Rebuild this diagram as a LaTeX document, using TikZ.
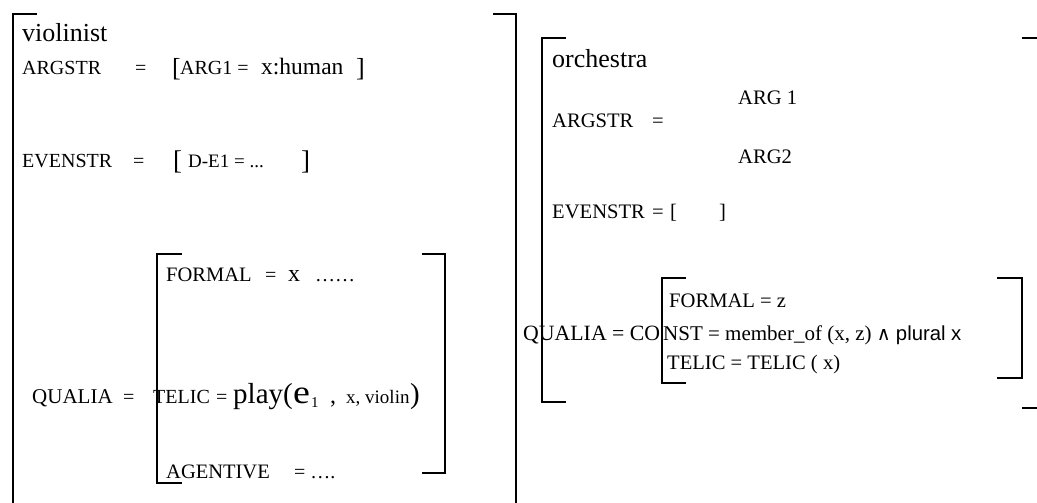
\documentclass[tikz,border=0pt]{standalone}
\usepackage{fontspec}
\setmainfont{Liberation Serif}
\newfontfamily\sansf{Liberation Sans}
\newfontfamily\dejav{DejaVu Sans}
\newcommand{\fs}[1]{\fontsize{#1}{#1}\selectfont}
\begin{document}
\begin{tikzpicture}[x=1pt,y=-1pt,
  txt/.style={anchor=base west,inner sep=0pt,font=\fs{20}},
  rtxt/.style={anchor=base west,inner sep=0pt,font=\fs{20.6}},
  big/.style={anchor=base west,inner sep=0pt,font=\fs{26}},
  brk/.style={line width=1.7pt}]
\useasboundingbox (0,0) rectangle (1037,503);
% ---------------- left structure ----------------
\draw[brk] (37,14) -- (13,14) -- (13,503);
\draw[brk] (493,14) -- (516,14) -- (516,503);
\node[big] (vio) at (22,42) {violinist};
\node[txt] (a1) at (22,75) {ARGSTR};
\node[txt] (a1eq) at (135,75) {=};
\node[txt,font=\fs{26}] (a1lb) at (172,77) {[};
\node[txt] (a1arg) at (180,75) {ARG1 =};
\node[txt,font=\fs{23.5}] (a1val) at (261,75) {x:human};
\node[txt,font=\fs{26}] (a1rb) at (356,77) {]};
\node[txt] (e1) at (22,167) {EVENSTR};
\node[txt] (e1eq) at (133,167) {=};
\node[txt,font=\fs{27}] (e1lb) at (173,169) {[};
\node[txt,font=\fs{19}] (e1val) at (188,167) {D-E1 = ...};
\node[txt,font=\fs{27}] (e1rb) at (301,169) {]};
% inner qualia bracket
\draw[brk] (182,254) -- (157,254) -- (157,483) -- (182,483);
\draw[brk] (422,254) -- (445,254) -- (445,473) -- (422,473);
\node[txt,font=\fs{20.5}] (fo1) at (166,281) {FORMAL};
\node[txt] (fo1eq) at (265,281) {=};
\node[txt,font=\fs{24}] (fo1x) at (288,281) {x};
\node[txt] (fo1d) at (315,281) {……};
\node[txt,font=\fs{21}] (q1) at (32,403) {QUALIA};
\node[txt] (q1eq) at (123,403) {=};
\node[txt] (te1) at (153,403) {TELIC};
\node[txt] (te1eq) at (216,403) {=};
\node[txt,font=\fs{29}] (te1p) at (233,403) {play(};
\node[txt,font=\fs{33},xscale=1.15] (te1e) at (293,403) {e};
\node[txt,font=\fs{15}] (te1s) at (311,407) {1};
\node[txt,font=\fs{24}] (te1c) at (330,403) {,};
\node[txt,font=\fs{19}] (te1v) at (346,403) {x, violin};
\node[txt,font=\fs{29}] (te1r) at (410,403) {)};
\node[txt,font=\fs{20.5}] (ag1) at (166,478) {AGENTIVE};
\node[txt] (ag1v) at (294,478) {= ….};
% ---------------- right structure ----------------
\draw[brk] (566,38) -- (542,38) -- (542,402) -- (566,402);
\draw[brk] (1022,38) -- (1037,38);
\draw[brk] (1022,408) -- (1037,408);
\node[big] (orc) at (552,68) {orchestra};
\node[rtxt] (arg1) at (738,104) {ARG 1};
\node[rtxt] (a2) at (552,128) {ARGSTR};
\node[rtxt] (a2eq) at (652,128) {=};
\node[rtxt] (arg2) at (738,163) {ARG2};
\node[rtxt] (e2) at (552,218) {EVENSTR};
\node[rtxt] (e2eq) at (652,218) {=};
\node[rtxt] (e2lb) at (670,218) {[};
\node[rtxt] (e2rb) at (719,218) {]};
\draw[brk] (686,278) -- (662,278) -- (662,383) -- (686,383);
\draw[brk] (997,278) -- (1022,278) -- (1022,378) -- (997,378);
\node[rtxt] (fo2) at (669,307) {FORMAL = z};
\node[rtxt,font=\fs{21.8}] (q2) at (523,340) {QUALIA = CO};
\node[rtxt,font=\fs{21}] (q2b) at (663,340) {NST = member\_of (x, z) {\dejav\fs{19}∧} {\sansf\fs{20.3}plural x}};
\node[rtxt] (te2) at (667,369) {TELIC = TELIC ( x)};
\end{tikzpicture}
\end{document}
